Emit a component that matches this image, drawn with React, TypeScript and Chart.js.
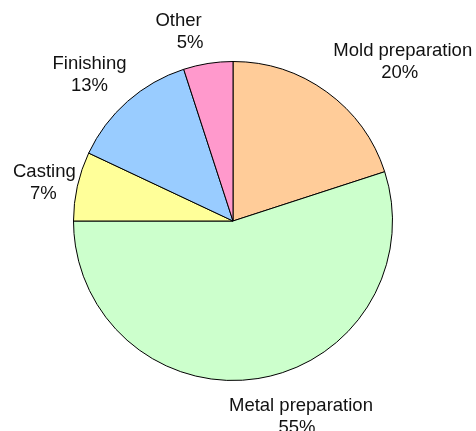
import React, { useEffect, useRef } from "react";
import { Chart, registerables } from "chart.js";

Chart.register(...registerables);

const categories = ["Mold preparation", "Metal preparation", "Casting", "Finishing", "Other"];
const shares = [20, 55, 7, 13, 5];
const sliceColors = ["#FFCC99", "#CCFFCC", "#FFFF99", "#99CCFF", "#FF99CC"];

// label nudges relative to the outer mid-point of each slice: [dx line1, dy line1 baseline, dx line2]
const labelNudges: [number, number, number][] = [
  [76, -36, 73],
  [43, 32.5, 39],
  [-33, -9, -34],
  [-38, -32, -38],
  [-29.5, -37.5, -18],
];

const LINE_GAP = 22;

const outsideLabels = {
  id: "outsideLabels",
  afterDraw(chart: any) {
    const ctx = chart.ctx;
    const meta = chart.getDatasetMeta(0);
    const data = chart.data.datasets[0].data as number[];
    const total = data.reduce((a, b) => a + b, 0);
    ctx.save();
    ctx.font = '18.5px "Liberation Sans", Arial, sans-serif';
    ctx.fillStyle = "#111";
    ctx.textAlign = "center";
    ctx.textBaseline = "alphabetic";
    meta.data.forEach((arc: any, i: number) => {
      const { x, y, startAngle, endAngle, outerRadius } = arc.getProps(
        ["x", "y", "startAngle", "endAngle", "outerRadius"],
        true
      );
      const mid = (startAngle + endAngle) / 2;
      const px = x + Math.cos(mid) * outerRadius;
      const py = y + Math.sin(mid) * outerRadius;
      const [dx1, dy1, dx2] = labelNudges[i];
      const pct = Math.round((data[i] / total) * 100) + "%";
      ctx.fillText(String(chart.data.labels[i]), px + dx1, py + dy1);
      ctx.fillText(pct, px + dx2, py + dy1 + LINE_GAP);
    });
    ctx.restore();
  },
};

export default function App() {
  const ref = useRef<HTMLCanvasElement | null>(null);
  useEffect(() => {
    if (!ref.current) return;
    const chart = new Chart(ref.current, {
      type: "pie",
      data: {
        labels: categories,
        datasets: [
          {
            data: shares,
            backgroundColor: sliceColors,
            borderColor: "#000",
            borderWidth: 1,
          },
        ],
      },
      options: {
        responsive: false,
        animation: false,
        layout: { padding: { left: 73, top: 61, right: 83, bottom: 50 } },
        plugins: {
          legend: { display: false },
          tooltip: { enabled: false },
        },
      },
      plugins: [outsideLabels],
    });
    return () => chart.destroy();
  }, []);
  return (
    <div style={{ position: "fixed", left: 0, top: 0, width: 476, height: 431, background: "#fff" }}>
      <canvas ref={ref} width={476} height={431} style={{ display: "block" }} />
    </div>
  );
}
